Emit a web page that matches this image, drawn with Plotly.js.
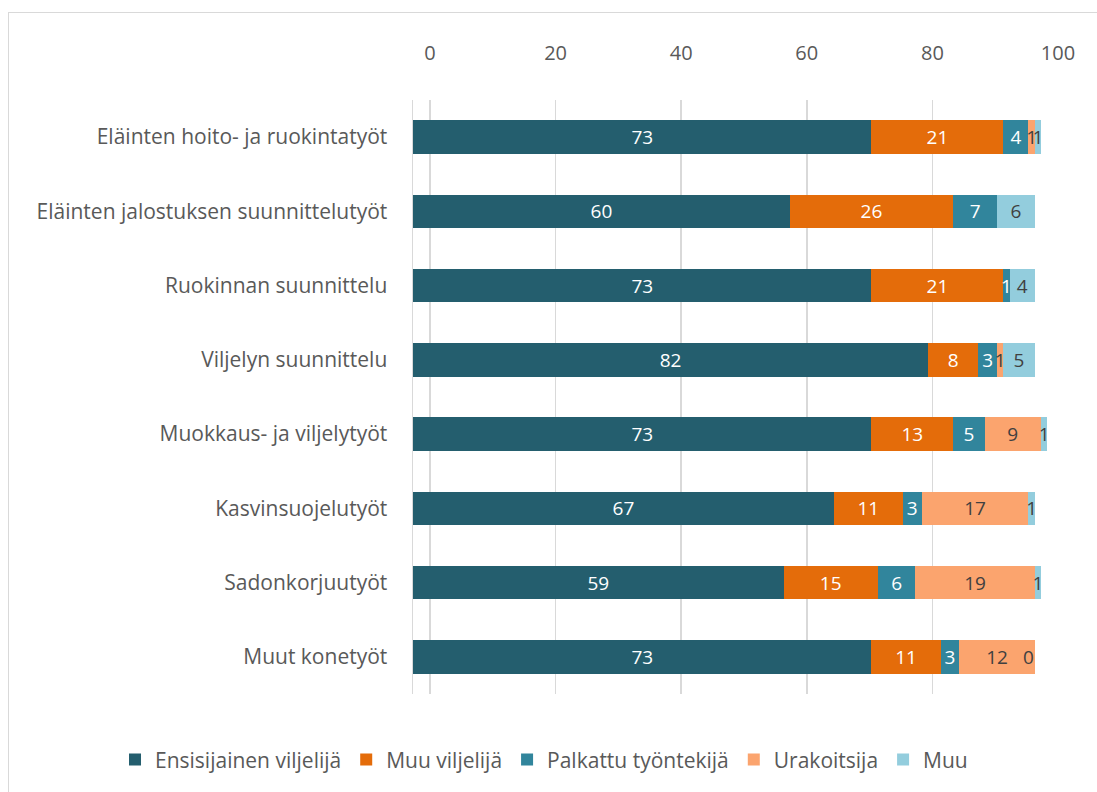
<!DOCTYPE html>
<html><head><meta charset="utf-8">
<script src="https://cdn.plot.ly/plotly-3.0.1.min.js"></script>
<style>
html,body{margin:0;padding:0;background:#fff;}
#frame{position:absolute;left:8px;top:12px;width:1100px;height:800px;border:1px solid #d9d9d9;}
#chart{position:absolute;left:0;top:0;width:1097px;height:792px;}
</style></head>
<body>
<div id="frame"></div>
<div id="chart"></div>
<script>
const categories = ["Eläinten hoito- ja ruokintatyöt","Eläinten jalostuksen suunnittelutyöt","Ruokinnan suunnittelu","Viljelyn suunnittelu","Muokkaus- ja viljelytyöt","Kasvinsuojelutyöt","Sadonkorjuutyöt","Muut konetyöt"];
const seriesNames = ["Ensisijainen viljelijä","Muu viljelijä","Palkattu työntekijä","Urakoitsija","Muu"];
const ensisijainen = [73,60,73,82,73,67,59,73];
const muuViljelija = [21,26,21,8,13,11,15,11];
const palkattu = [4,7,1,3,5,3,6,3];
const urakoitsija = [1,0,0,1,9,17,19,12];
const muu = [1,6,4,5,1,1,1,0];
const urakoitsijaLabels = ["1","","","1","9","17","19","12"];
const tickVals = [0,20,40,60,80,100];

const FONT = '"Open Sans", sans-serif';
const colors = ["#245e6e","#e46c0a","#31859c","#fba46e","#93cddd"];
const textColors = ["#ffffff","#ffffff","#ffffff","#404040","#404040"];
const values = [ensisijainen, muuViljelija, palkattu, urakoitsija, muu];

const traces = values.map((v,i)=>({
  type:'bar', orientation:'h', name:seriesNames[i],
  y:categories, x:v, xaxis:'x', yaxis:'y',
  marker:{color:colors[i], line:{width:0}},
  text: i===3 ? urakoitsijaLabels : v.map(String),
  textposition:'inside', insidetextanchor:'middle', textangle:0,
  constraintext:'none',
  textfont:{family:FONT, size:19, color:textColors[i]},
  hoverinfo:'x+name'
}));
traces.push({type:'scatter', x:[0,100], y:[categories[0],categories[0]], xaxis:'x2', yaxis:'y',
  mode:'markers', marker:{opacity:0}, showlegend:false, hoverinfo:'skip'});

// labels for zero-valued "Muu" segments (Plotly hides text of zero-width bars)
const annotations = [];
muu.forEach((v,k)=>{
  if (v===0) {
    const end = ensisijainen[k]+muuViljelija[k]+palkattu[k]+urakoitsija[k];
    annotations.push({x:end, y:categories[k], xref:'x', yref:'y', text:String(v), showarrow:false,
      xanchor:'right', xshift:1, font:{family:FONT, size:19, color:'#404040'}});
  }
});

const layout = {
  width:1097, height:792,
  margin:{l:413, r:39, t:100, b:98},
  paper_bgcolor:'rgba(0,0,0,0)', plot_bgcolor:'rgba(0,0,0,0)',
  barmode:'stack', bargap:0.55,
  font:{family:FONT, color:'#595959'},
  annotations,
  xaxis:{range:[0,102.7], showgrid:false, showticklabels:false, zeroline:false, fixedrange:true, side:'top'},
  xaxis2:{overlaying:'x', side:'top', range:[-2.7,100], tickvals:tickVals, ticktext:tickVals.map(String),
    showgrid:true, gridcolor:'#d9d9d9', gridwidth:1.5, zeroline:false, ticks:'',
    tickfont:{family:FONT, size:20, color:'#595959'}, ticklabelstandoff:35},
  yaxis:{autorange:'reversed', showgrid:false, ticks:'', showline:true, linecolor:'#d9d9d9', linewidth:1.5,
    tickfont:{family:FONT, size:21, color:'#595959'}, ticklabelstandoff:20},
  showlegend:true,
  legend:{orientation:'h', traceorder:'normal', x:-0.462, xanchor:'left',
    y:-0.111, yanchor:'middle', font:{family:FONT, size:21, color:'#595959'}, itemwidth:30}
};
Plotly.newPlot('chart', traces, layout, {displayModeBar:false, staticPlot:true});
</script>
</body></html>
